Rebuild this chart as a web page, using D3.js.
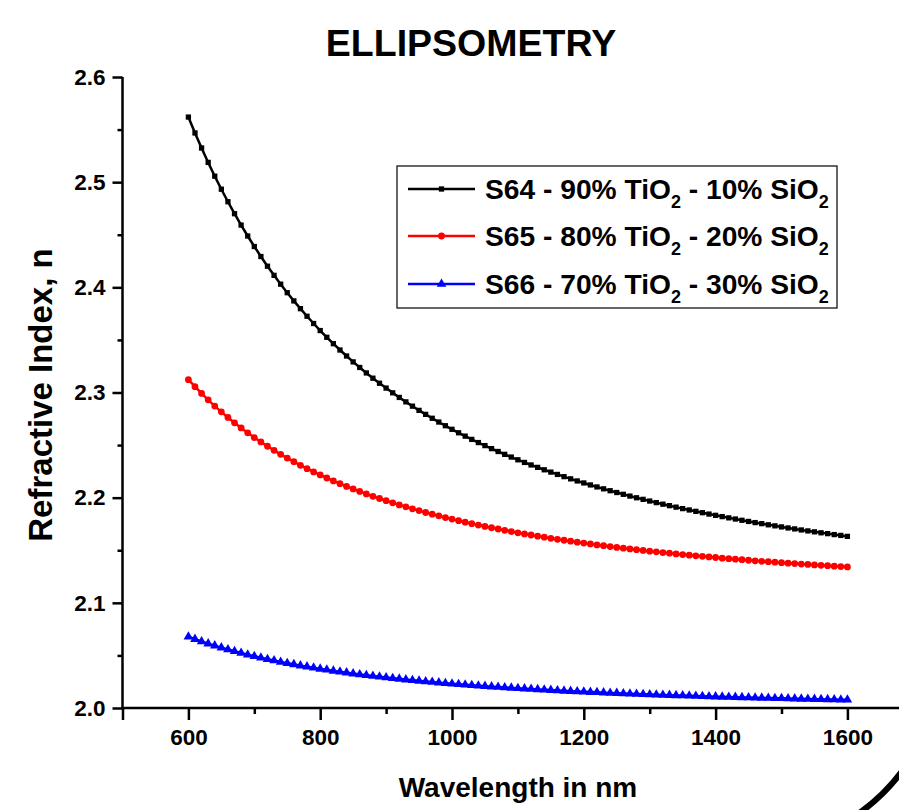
<!DOCTYPE html>
<html>
<head>
<meta charset="utf-8">
<script src="https://cdn.jsdelivr.net/npm/d3@7"></script>
<style>
  html, body { margin: 0; padding: 0; background: #fff; overflow: hidden; }
  svg { display: block; font-family: "Liberation Sans", Arial, sans-serif; font-weight: bold; }
</style>
</head>
<body>
<svg id="chart" width="899" height="810"></svg>
<script>
const wavelength = [600,610,620,630,640,650,660,670,680,690,700,710,720,730,740,750,760,770,780,790,
  800,810,820,830,840,850,860,870,880,890,900,910,920,930,940,950,960,970,980,990,
  1000,1010,1020,1030,1040,1050,1060,1070,1080,1090,1100,1110,1120,1130,1140,1150,1160,1170,1180,1190,
  1200,1210,1220,1230,1240,1250,1260,1270,1280,1290,1300,1310,1320,1330,1340,1350,1360,1370,1380,1390,
  1400,1410,1420,1430,1440,1450,1460,1470,1480,1490,1500,1510,1520,1530,1540,1550,1560,1570,1580,1590,1600];

const s64 = [2.5619,2.5468,2.5325,2.5188,2.5057,2.4933,2.4814,2.4700,2.4592,2.4488,
  2.4388,2.4293,2.4201,2.4114,2.4030,2.3949,2.3871,2.3797,2.3725,2.3656,
  2.3589,2.3525,2.3464,2.3404,2.3347,2.3291,2.3238,2.3186,2.3136,2.3088,
  2.3042,2.2997,2.2953,2.2911,2.2870,2.2830,2.2792,2.2755,2.2719,2.2684,
  2.2650,2.2617,2.2585,2.2554,2.2524,2.2495,2.2466,2.2439,2.2412,2.2386,
  2.2360,2.2335,2.2311,2.2288,2.2265,2.2243,2.2221,2.2200,2.2179,2.2159,
  2.2140,2.2121,2.2102,2.2084,2.2066,2.2049,2.2032,2.2015,2.1999,2.1984,
  2.1968,2.1953,2.1938,2.1924,2.1910,2.1896,2.1883,2.1870,2.1857,2.1844,
  2.1832,2.1820,2.1808,2.1797,2.1785,2.1774,2.1763,2.1753,2.1742,2.1732,
  2.1722,2.1712,2.1703,2.1693,2.1684,2.1675,2.1666,2.1658,2.1649,2.1641,2.1632];

const s65 = [2.3122,2.3055,2.2991,2.2930,2.2871,2.2816,2.2763,2.2712,2.2663,2.2617,
  2.2572,2.2530,2.2489,2.2450,2.2412,2.2376,2.2342,2.2308,2.2276,2.2245,
  2.2216,2.2187,2.2159,2.2133,2.2107,2.2083,2.2059,2.2036,2.2013,2.1992,
  2.1971,2.1951,2.1931,2.1913,2.1894,2.1877,2.1859,2.1843,2.1827,2.1811,
  2.1796,2.1781,2.1767,2.1753,2.1740,2.1727,2.1714,2.1702,2.1690,2.1678,
  2.1666,2.1655,2.1645,2.1634,2.1624,2.1614,2.1604,2.1595,2.1586,2.1577,
  2.1568,2.1560,2.1551,2.1543,2.1535,2.1527,2.1520,2.1513,2.1505,2.1498,
  2.1491,2.1485,2.1478,2.1472,2.1465,2.1459,2.1453,2.1447,2.1442,2.1436,
  2.1431,2.1425,2.1420,2.1415,2.1410,2.1405,2.1400,2.1395,2.1391,2.1386,
  2.1382,2.1377,2.1373,2.1369,2.1365,2.1360,2.1357,2.1353,2.1349,2.1345,2.1341];

const s66 = [2.0677,2.0655,2.0633,2.0612,2.0593,2.0574,2.0556,2.0539,2.0523,2.0507,
  2.0492,2.0478,2.0464,2.0451,2.0438,2.0426,2.0415,2.0403,2.0393,2.0382,
  2.0372,2.0363,2.0353,2.0344,2.0336,2.0327,2.0319,2.0312,2.0304,2.0297,
  2.0290,2.0283,2.0277,2.0270,2.0264,2.0258,2.0252,2.0247,2.0241,2.0236,
  2.0231,2.0226,2.0221,2.0217,2.0212,2.0208,2.0203,2.0199,2.0195,2.0191,
  2.0187,2.0184,2.0180,2.0177,2.0173,2.0170,2.0167,2.0163,2.0160,2.0157,
  2.0154,2.0151,2.0149,2.0146,2.0143,2.0141,2.0138,2.0136,2.0133,2.0131,
  2.0129,2.0126,2.0124,2.0122,2.0120,2.0118,2.0116,2.0114,2.0112,2.0110,
  2.0108,2.0106,2.0104,2.0103,2.0101,2.0099,2.0098,2.0096,2.0095,2.0093,
  2.0092,2.0090,2.0089,2.0087,2.0086,2.0084,2.0083,2.0082,2.0081,2.0079,2.0078];

const seriesNames = ["S64", "S65", "S66"];
const tiPct = ["90%", "80%", "70%"];
const siPct = ["10%", "20%", "30%"];
const seriesColors = ["#000000", "#ff0000", "#0000ff"];
const xMajorTicks = [500, 600, 800, 1000, 1200, 1400, 1600];
const xTickLabels = ["", "600", "800", "1000", "1200", "1400", "1600"];
const xMinorTicks = [700, 900, 1100, 1300, 1500, 1700];
const yMajorTicks = [2.0, 2.1, 2.2, 2.3, 2.4, 2.5, 2.6];
const yTickLabels = ["2.0", "2.1", "2.2", "2.3", "2.4", "2.5", "2.6"];
const yMinorTicks = [2.05, 2.15, 2.25, 2.35, 2.45, 2.55];

const svg = d3.select("#chart");
const x = d3.scaleLinear().domain([500, 1700]).range([122.5, 913.3]);
const y = d3.scaleLinear().domain([2.0, 2.6]).range([708, 77]);

// Title
svg.append("text").attr("x", 471).attr("y", 56).attr("text-anchor", "middle")
  .attr("font-size", 37.5).text("ELLIPSOMETRY");

// Axes (separate groups for major and minor ticks)
const xMinorG = svg.append("g").attr("transform", "translate(0,708)")
  .call(d3.axisBottom(x).tickValues(xMinorTicks).tickSize(6).tickFormat(""));
const xMajorG = svg.append("g").attr("transform", "translate(0,708)")
  .call(d3.axisBottom(x).tickValues(xMajorTicks).tickSize(12).tickPadding(9)
    .tickFormat((d, i) => xTickLabels[i]));
const yMinorG = svg.append("g").attr("transform", "translate(122.5,0)")
  .call(d3.axisLeft(y).tickValues(yMinorTicks).tickSize(5).tickFormat(""));
const yMajorG = svg.append("g").attr("transform", "translate(122.5,0)")
  .call(d3.axisLeft(y).tickValues(yMajorTicks).tickSize(10).tickPadding(7)
    .tickFormat((d, i) => yTickLabels[i]));

[xMinorG, xMajorG, yMinorG, yMajorG].forEach(g => {
  g.selectAll(".tick line").attr("stroke", "#000").attr("stroke-width", 2.5);
  g.selectAll(".tick text").attr("font-size", 22.5).attr("font-family", "Liberation Sans, Arial, sans-serif")
    .attr("font-weight", "bold").attr("fill", "#000");
});
xMinorG.select(".domain").remove();
yMinorG.select(".domain").remove();
xMajorG.select(".domain").attr("d", `M${x(500) - 1.25},0H${x(1700)}`).attr("stroke", "#000").attr("stroke-width", 2.5);
yMajorG.select(".domain").attr("d", `M0,${y(2.0)}V${y(2.6)}`).attr("stroke", "#000").attr("stroke-width", 2.5);

// Axis titles
svg.append("text").attr("x", 518).attr("y", 797).attr("text-anchor", "middle")
  .attr("font-size", 28).text("Wavelength in nm");
svg.append("text").attr("transform", "translate(52,395) rotate(-90)").attr("text-anchor", "middle")
  .attr("font-size", 33).text("Refractive Index, n");

// Series
const allSeries = [s64, s65, s66];
const line = d3.line().x((d, i) => x(wavelength[i])).y(d => y(d));
const sym = [d3.symbolSquare, d3.symbolCircle, d3.symbolTriangle];
const symSize = [28, 36, 40];

allSeries.forEach((vals, si) => {
  const g = svg.append("g");
  g.append("path").datum(vals).attr("d", line).attr("fill", "none")
    .attr("stroke", seriesColors[si]).attr("stroke-width", 2.5);
  g.selectAll("path.m").data(vals).enter().append("path").attr("class", "m")
    .attr("transform", (d, i) => `translate(${x(wavelength[i])},${y(d)})`)
    .attr("d", d3.symbol().type(sym[si]).size(symSize[si]))
    .attr("fill", seriesColors[si]);
});

// Legend
const lg = svg.append("g");
lg.append("rect").attr("x", 397).attr("y", 166).attr("width", 440).attr("height", 142)
  .attr("fill", "#fff").attr("stroke", "#000").attr("stroke-width", 1.2);
const rowY = [189, 236, 284];
seriesNames.forEach((name, i) => {
  lg.append("line").attr("x1", 408).attr("x2", 475).attr("y1", rowY[i]).attr("y2", rowY[i])
    .attr("stroke", seriesColors[i]).attr("stroke-width", 2.5);
  lg.append("path").attr("transform", `translate(441.5,${rowY[i]})`)
    .attr("d", d3.symbol().type(sym[i]).size(symSize[i])).attr("fill", seriesColors[i]);
  const t = lg.append("text").attr("x", 485).attr("y", rowY[i] + 10).attr("font-size", 28.2);
  t.append("tspan").text(`${name} - ${tiPct[i]} TiO`);
  t.append("tspan").attr("font-size", 18).attr("dy", 9).text("2");
  t.append("tspan").attr("dy", -9).text(` - ${siPct[i]} SiO`);
  t.append("tspan").attr("font-size", 18).attr("dy", 9).text("2");
});

// decorative arc at the bottom-right corner
svg.append("path").attr("d", "M858,814 Q884,796 903,770").attr("fill", "none")
  .attr("stroke", "#000").attr("stroke-width", 6);
</script>
</body>
</html>
